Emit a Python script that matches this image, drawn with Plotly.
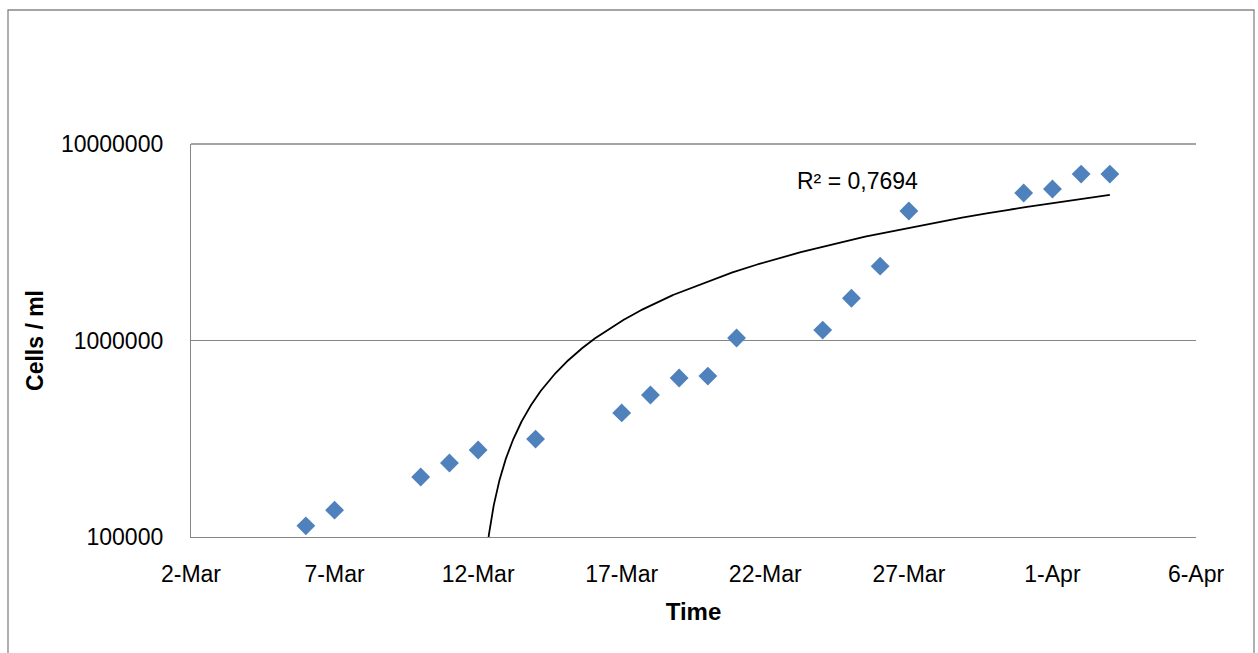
import numpy as np
import pandas as pd
import plotly.graph_objects as go

# ---- data ----
dates = ["2013-03-06", "2013-03-07", "2013-03-10", "2013-03-11", "2013-03-12",
         "2013-03-14", "2013-03-17", "2013-03-18", "2013-03-19", "2013-03-20",
         "2013-03-21", "2013-03-24", "2013-03-25", "2013-03-26", "2013-03-27",
         "2013-03-31", "2013-04-01", "2013-04-02", "2013-04-03"]
cells = [114000, 137000, 202000, 238000, 277000,
         315000, 428000, 528000, 644000, 659000,
         1030000, 1130000, 1640000, 2390000, 4560000,
         5630000, 5900000, 7030000, 7030000]
x_tick_vals = ["2013-03-02", "2013-03-07", "2013-03-12", "2013-03-17",
               "2013-03-22", "2013-03-27", "2013-04-01", "2013-04-06"]
x_tick_text = ["2-Mar", "7-Mar", "12-Mar", "17-Mar", "22-Mar", "27-Mar", "1-Apr", "6-Apr"]
y_tick_vals = [100000, 1000000, 10000000]
y_tick_text = ["100000", "1000000", "10000000"]
r2_label = "R² = 0,7694"

# ---- linear trendline (least squares on date) ----
d = pd.to_datetime(dates)
t0 = d[0]
days = np.array([(v - t0).total_seconds() / 86400 for v in d])
y = np.array(cells, dtype=float)
slope, intercept = np.polyfit(days, y, 1)
tt = np.linspace(days.min(), days.max(), 4000)
ty = slope * tt + intercept
mask = ty > 0
trend_x = [t0 + pd.Timedelta(days=float(v)) for v in tt[mask]]
trend_y = ty[mask]

FONT = "Liberation Sans, Arial, sans-serif"
GRAY = "#868686"

fig = go.Figure()
fig.add_trace(go.Scatter(
    x=trend_x, y=trend_y, mode="lines",
    line=dict(color="black", width=1.8), showlegend=False, hoverinfo="skip"))
fig.add_trace(go.Scatter(
    x=d, y=cells, mode="markers",
    marker=dict(symbol="diamond", size=14.5, color="#4F81BD", line=dict(width=0)),
    showlegend=False))

fig.add_annotation(x="2013-03-25 05:00", y=np.log10(6500000), xref="x", yref="y",
                   text=r2_label, showarrow=False,
                   font=dict(family=FONT, size=23, color="black"))

fig.update_layout(
    width=1258, height=653,
    margin=dict(l=191, r=62, t=144, b=116),
    paper_bgcolor="white", plot_bgcolor="white",
    font=dict(family=FONT, size=23, color="black"),
    xaxis=dict(
        type="date", range=["2013-03-02", "2013-04-06"],
        tickvals=x_tick_vals, ticktext=x_tick_text,
        showgrid=False, showline=True, linecolor=GRAY, linewidth=1.3,
        ticks="outside", ticklen=16, tickcolor="rgba(0,0,0,0)",
        tickfont=dict(family=FONT, size=23),
        title=dict(text="<b>Time</b>", standoff=17,
                   font=dict(family=FONT, size=24)),
        zeroline=False),
    yaxis=dict(
        type="log", range=[5, 7],
        tickvals=y_tick_vals, ticktext=y_tick_text,
        showgrid=True, gridcolor=GRAY, gridwidth=1.3,
        showline=True, linecolor=GRAY, linewidth=1.3,
        ticks="outside", ticklen=22, tickcolor="rgba(0,0,0,0)",
        tickfont=dict(family=FONT, size=23),
        title=dict(text="<b>Cells / ml</b>", standoff=10,
                   font=dict(family=FONT, size=23)),
        zeroline=False),
    shapes=[
        dict(type="rect", xref="paper", yref="paper",
             x0=(8 - 191) / 1005, x1=(1254 - 191) / 1005,
             y0=(537 - 680) / 393, y1=(537 - 10) / 393,
             line=dict(color=GRAY, width=1.3), fillcolor="rgba(0,0,0,0)",
             layer="below"),
        dict(type="line", xref="x domain", yref="y domain",
             x0=0, x1=1, y0=1, y1=1,
             line=dict(color=GRAY, width=1.3), layer="below"),
    ],
)

fig.write_html("out.html")
